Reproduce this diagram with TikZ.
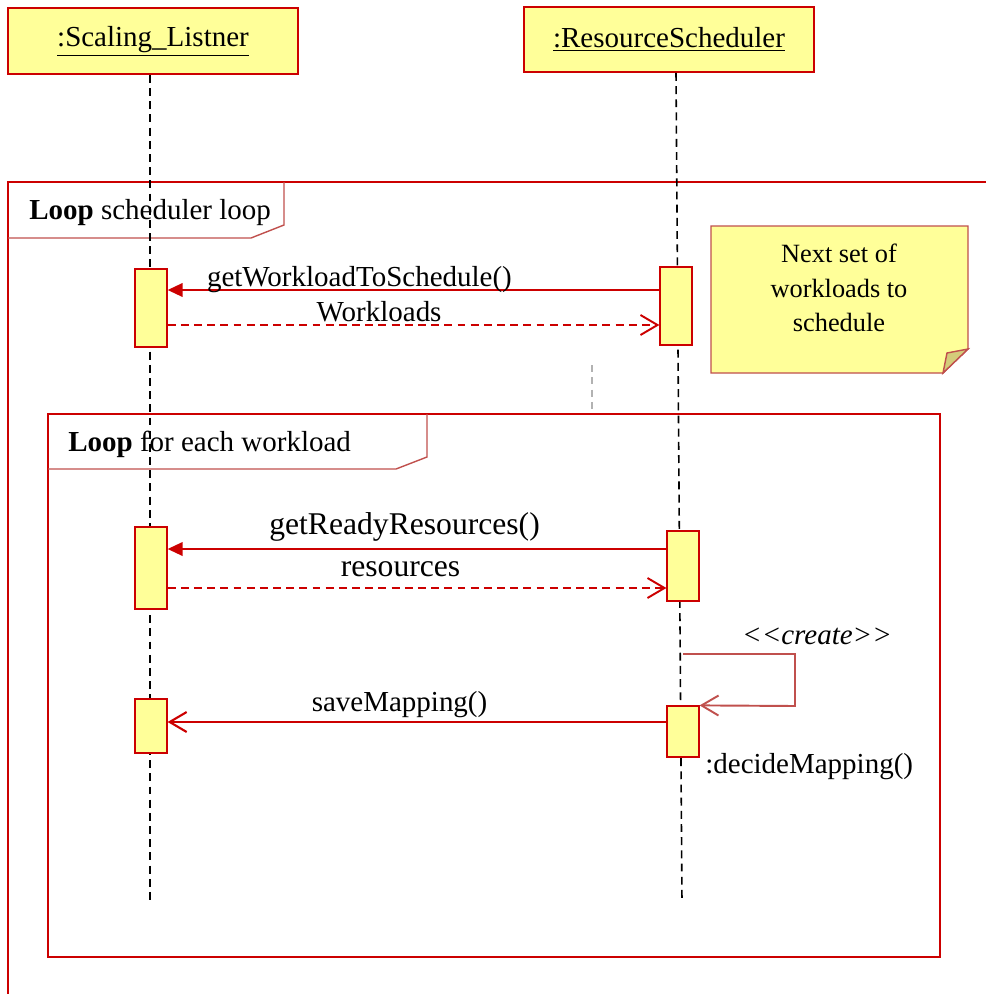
\documentclass[tikz,border=0pt]{standalone}
\usepackage{fontspec}
\setmainfont{Liberation Serif}
\usepackage{tikz}
\usetikzlibrary{arrows.meta}
\definecolor{umlred}{RGB}{204, 0, 0}
\definecolor{softred}{RGB}{192, 80, 77}
\definecolor{umlyellow}{RGB}{255, 255, 153}
\definecolor{foldyellow}{RGB}{212, 204, 122}
\tikzset{
	object/.style={draw=umlred, fill=umlyellow, line width=1.1pt, minimum width=5.8cm, inner sep=0pt},
	act/.style={draw=umlred, fill=umlyellow, line width=0.7pt, minimum width=0.64cm, inner sep=0pt},
	lifeline/.style={black, line width=0.9pt, dash pattern=on 4.5pt off 3pt},
	call/.style={umlred, line width=1.2pt, -{Triangle[length=0.3cm, width=0.27cm]}},
	reply/.style={umlred, line width=1.1pt, dash pattern=on 4.5pt off 3pt, -{Straight Barb[length=0.34cm, width=0.4cm]}},
	opencall/.style={umlred, line width=1.2pt, -{Straight Barb[length=0.34cm, width=0.4cm]}},
	selfcall/.style={softred, line width=1.1pt, -{Straight Barb[length=0.34cm, width=0.4cm]}},
	frame/.style={umlred, line width=1.2pt},
	tab/.style={softred, line width=0.8pt},
	lbl/.style={anchor=base, inner sep=0pt, text=black}
}

\begin{document}
\begin{tikzpicture}[x=0.02cm, y=-0.02cm, font=\fontsize{16.5}{20}\selectfont]
	\useasboundingbox (0,0) rectangle (986,994);

	% loop frames
	\draw[frame] (986,182) -- (8,182) -- (8,994);
	\draw[tab] (8,238) -- (251,238) -- (284,225) -- (284,182);
	\node[anchor=base west, inner sep=0pt] (loop1) at (29,219) {\textbf{Loop} scheduler loop};

	\draw[frame, line width=1.6pt] (48,414) rectangle (940,957);
	\draw[tab] (48,469) -- (396,469) -- (427,457) -- (427,414);
	\node[anchor=base west, inner sep=0pt] (loop2) at (68,451) {\textbf{Loop} for each workload};

	% objects and lifelines
	\node[object, minimum height=1.32cm] (listner) at (153,41) {\underline{:Scaling\_Listner}};
	\node[object, minimum height=1.3cm] (sched) at (669,39.5) {\underline{:ResourceScheduler}};
	\coordinate (end1) at (150,902);
	\coordinate (end2) at (682,902);
	\draw[lifeline] (listner.south -| end1) -- (end1);
	\draw[lifeline] (sched.south -| 676,0) -- (end2);

	% note
	\draw[softred, fill=umlyellow, line width=0.8pt] (711,226) -- (968,226) -- (968,349) -- (943,373) -- (711,373) -- cycle;
	\draw[softred, fill=foldyellow, line width=0.8pt] (943,373) -- (947,353) -- (968,349) -- cycle;
	\node[align=center, font=\fontsize{15}{19.8}\selectfont] (note) at (839,288) {Next set of\\workloads to\\schedule};
	\coordinate (anchor1) at (592,365);
	\draw[gray!60, line width=1.5pt, dash pattern=on 4pt off 3pt] (anchor1) -- (anchor1 |- 0,414);

	% activations
	\node[act, minimum height=1.56cm] (a1) at (151,308) {};
	\node[act, minimum height=1.56cm] (a2) at (676,306) {};
	\node[act, minimum height=1.64cm] (a3) at (151,568) {};
	\node[act, minimum height=1.4cm] (a4) at (683,566) {};
	\node[act, minimum height=1.08cm] (a5) at (151,726) {};
	\node[act, minimum height=1.02cm] (a6) at (683,731.5) {};

	% messages
	\draw[call] (a2.west |- 0,290) -- (a1.east |- 0,290)
		node[lbl, pos=0.61, yshift=2pt] {getWorkloadToSchedule()};
	\draw[reply] (a1.east |- 0,325) -- (a2.west |- 0,325)
		node[lbl, pos=0.43, yshift=2pt] {Workloads};

	\draw[call] (a4.west |- 0,549) -- (a3.east |- 0,549)
		node[lbl, pos=0.525, yshift=8.5pt, font=\fontsize{18}{22}\selectfont] {getReadyResources()};
	\draw[reply] (a3.east |- 0,588) -- (a4.west |- 0,588)
		node[lbl, pos=0.467, yshift=6.8pt, font=\fontsize{18}{22}\selectfont] {resources};

	\draw[selfcall] (a6.north |- 0,654) -| (795,706) -- (a6.north east);
	\node (create) at (817,636) {\textit{<\kern0pt<\kern0pt create\kern0pt>\kern0pt>}};

	\draw[opencall] (a6.west |- 0,722) -- (a5.east |- 0,722)
		node[lbl, pos=0.535, yshift=5.7pt] {saveMapping()};
	\node[anchor=west, inner sep=0pt] (decide) at (705,767) {:decideMapping()};
\end{tikzpicture}
\end{document}
